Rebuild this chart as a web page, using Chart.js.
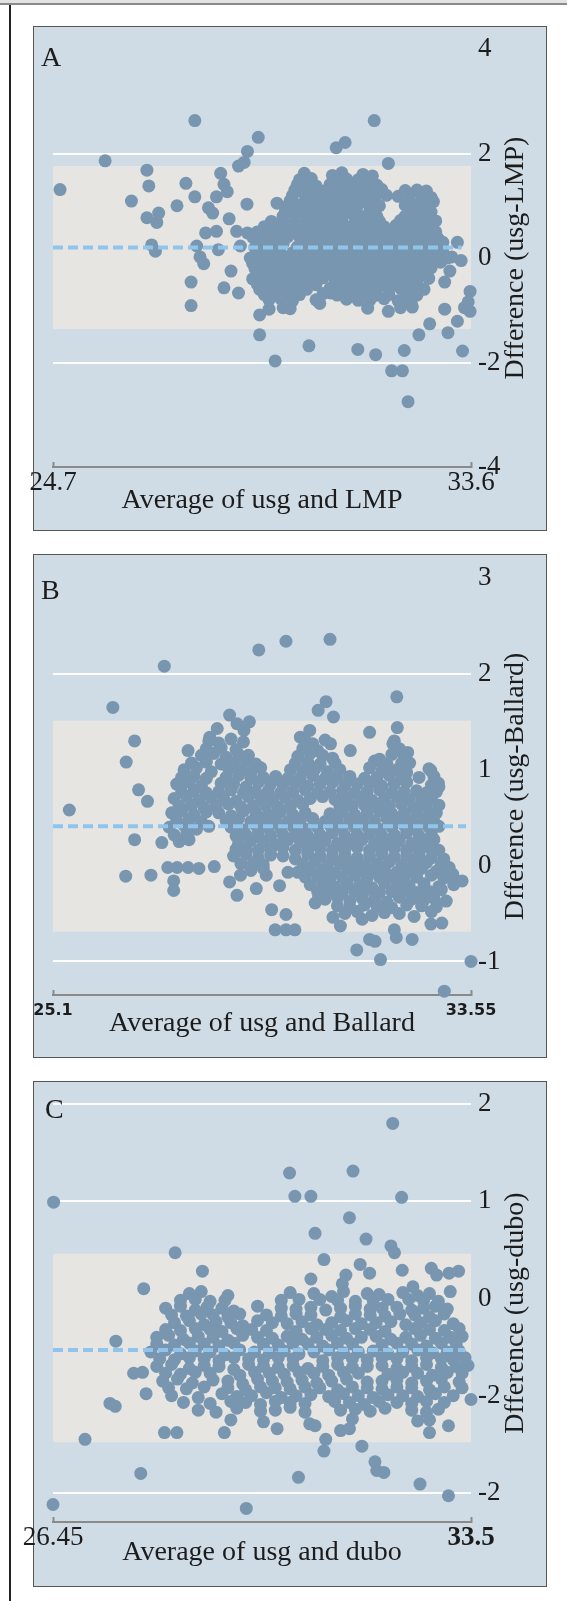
<!DOCTYPE html>
<html>
<head>
<meta charset="utf-8">
<script src="https://cdn.jsdelivr.net/npm/chart.js@4.4.1/dist/chart.umd.min.js"></script>
<style>
  html, body { margin: 0; padding: 0; background: #fff; }
  body { width: 567px; height: 1601px; position: relative; overflow: hidden; }
  .topbar { position: absolute; left: 0; top: 0; width: 567px; height: 3px; background: #e2e2e2; border-bottom: 2px solid #8a8a8a; }
  .frame { position: absolute; left: 9px; top: 5px; width: 2px; height: 1596px; background: #222; }
  .panel { position: absolute; left: 33px; width: 512px; border: 1px solid #555; background: #cfdbe5; }
  .panel canvas { position: absolute; left: -14px; top: 0; }
</style>
</head>
<body>
<div class="topbar"></div>
<div class="frame"></div>
<div class="panel" style="top:26px;height:503px"><canvas id="chartA" width="526" height="503"></canvas></div>
<div class="panel" style="top:554px;height:502px"><canvas id="chartB" width="526" height="502"></canvas></div>
<div class="panel" style="top:1081px;height:504px"><canvas id="chartC" width="526" height="504"></canvas></div>

<script>
// ---- Panel A: usg vs LMP ----
const xTicksA = [24.7, 33.6];
const xLabelsA = ['24.7', '33.6'];
const yTicksA = [4, 2, 0, -2, -4];
const yLabelsA = ['4', '2', '0', '-2', '-4'];
const yRangeA = [-4, 4];
const whiteLinesA = [2, -2];
const meanA = 0.2;
const meanEndA = 33.4;
const limitsA = [1.76, -1.36];
const pointsA = [
  [24.85,1.31],[25.81,1.86],[26.37,1.09],[26.70,1.68],[26.74,1.38],[26.70,0.77],[26.95,0.86],[26.91,0.68],
  [27.34,1.0],[26.80,0.25],[26.88,0.13],[27.53,1.43],[27.72,2.63],[27.72,1.17],[27.64,-0.46],[27.64,-0.91],
  [27.76,0.23],[27.83,0.02],[27.91,-0.11],[28.01,0.96],[28.10,0.86],[28.18,1.17],[28.27,1.62],[28.34,1.41],
  [28.41,1.27],[28.45,0.75],[27.95,0.48],[28.18,0.51],[28.22,0.16],[28.34,-0.57],[28.49,-0.25],[28.61,0.51],
  [28.65,-0.67],[28.65,1.76],[28.77,1.83],[28.84,2.04],[28.83,1.03],[28.84,0.48],[28.69,0.23],[29.07,2.31],
  [29.10,-1.09],[29.10,-1.47],[29.26,0.58],[29.30,-0.98],[29.43,-1.97],[29.47,1.05],[29.49,0.51],[30.15,-1.68],
  [30.38,-0.87],[30.61,-0.67],[30.73,2.11],[30.92,2.21],[31.19,-1.75],[31.54,2.63],[31.57,-1.85],[31.84,1.81],
  [31.84,-1.02],[31.91,-2.16],[32.14,-2.16],[32.18,-1.77],[32.26,-2.75],[32.10,-0.95],[32.33,-0.88],[32.49,-1.47],
  [32.72,-1.26],[33.04,-0.98],[33.11,-1.43],[33.31,-1.21],[33.42,-1.78],[33.58,-0.64],[33.58,-1.02],[33.54,-0.84],
  [33.46,-0.95],[33.31,0.30],[33.19,0.02],[33.39,-0.05],[33.15,-0.25],[33.04,-0.46],
  [30.05,1.62],[30.65,1.58],[30.85,1.63],[31.3,1.6],[31.5,1.57],
  [29.95,1.5],[30.2,1.52],[30.75,1.49],[30.95,1.51],[31.2,1.5],[31.45,1.48],
  [29.9,1.4],[30.1,1.43],[30.3,1.38],[30.6,1.41],[30.85,1.4],[31.05,1.37],[31.35,1.42],[31.6,1.39],
  [29.85,1.3],[30.2,1.31],[30.45,1.28],[30.7,1.3],[30.95,1.32],[31.2,1.29],[31.45,1.3],[31.7,1.31],[32.2,1.29],[32.45,1.3],[32.65,1.28],
  [29.8,1.2],[30.05,1.23],[30.3,1.18],[30.55,1.21],[30.8,1.2],[31.05,1.17],[31.3,1.22],[31.55,1.19],[31.8,1.2],[32.05,1.18],[32.3,1.22],[32.55,1.2],[32.75,1.16],
  [29.75,1.1],[30.1,1.11],[30.35,1.08],[30.6,1.1],[30.85,1.12],[31.1,1.09],[31.35,1.1],[31.55,1.11],[32.3,1.09],[32.55,1.1],[32.8,1.08],
  [29.7,1.0],[29.95,1.02],[30.2,0.98],[30.45,1.01],[30.7,1.0],[30.95,0.97],[31.2,1.02],[31.45,0.99],[31.65,1.0],[32.2,1.01],[32.45,0.98],[32.7,1.0],
  [29.65,0.9],[29.9,0.91],[30.15,0.88],[30.4,0.9],[30.65,0.92],[30.9,0.89],[31.15,0.9],[31.45,0.91],[32.3,0.89],[32.55,0.9],[32.75,0.88],
  [29.6,0.8],[29.85,0.82],[30.1,0.78],[30.35,0.81],[30.6,0.8],[30.85,0.77],[31.1,0.82],[31.35,0.8],[31.6,0.79],[32.2,0.8],[32.45,0.83],[32.7,0.79],
  [29.35,0.7],[29.6,0.71],[29.85,0.68],[30.1,0.7],[30.35,0.72],[30.6,0.69],[30.85,0.7],[31.15,0.71],[31.4,0.68],[31.65,0.7],[32.1,0.72],[32.35,0.69],[32.6,0.7],[32.85,0.71],
  [29.2,0.6],[29.5,0.62],[29.75,0.58],[30.0,0.61],[30.25,0.6],[30.5,0.57],[30.75,0.62],[31.0,0.6],[31.25,0.58],[31.5,0.61],[31.75,0.6],[32.0,0.62],[32.25,0.59],[32.5,0.6],[32.75,0.58],
  [29.05,0.5],[29.35,0.51],[29.6,0.48],[29.85,0.5],[30.1,0.52],[30.35,0.49],[30.6,0.5],[30.85,0.51],[31.1,0.48],[31.35,0.5],[31.6,0.52],[31.85,0.49],[32.1,0.5],[32.35,0.51],[32.6,0.48],[32.85,0.5],
  [28.95,0.4],[29.2,0.42],[29.45,0.38],[29.7,0.41],[29.95,0.4],[30.2,0.37],[30.45,0.42],[30.7,0.4],[30.95,0.39],[31.2,0.41],[31.45,0.38],[31.7,0.4],[31.95,0.42],[32.2,0.39],[32.45,0.4],[32.7,0.41],[32.9,0.37],
  [29.1,0.3],[29.35,0.31],[29.6,0.28],[30.0,0.3],[30.3,0.32],[30.55,0.29],[30.8,0.3],[31.05,0.31],[31.3,0.28],[31.55,0.3],[31.8,0.32],[32.05,0.29],[32.3,0.3],[32.55,0.31],[32.8,0.28],[33.0,0.3],
  [29.0,0.2],[29.25,0.22],[29.5,0.18],[29.9,0.21],[30.15,0.2],[30.4,0.17],[30.65,0.22],[30.9,0.2],[31.15,0.19],[31.4,0.21],[31.65,0.18],[31.9,0.2],[32.15,0.22],[32.4,0.19],[32.65,0.2],[32.9,0.21],
  [29.05,0.1],[29.3,0.11],[29.55,0.08],[29.8,0.1],[30.05,0.12],[30.3,0.09],[30.55,0.1],[30.8,0.11],[31.05,0.08],[31.3,0.1],[31.55,0.12],[31.8,0.09],[32.05,0.1],[32.3,0.11],[32.55,0.08],[32.8,0.1],[33.0,0.12],
  [28.9,0.0],[29.15,0.02],[29.4,-0.02],[29.65,0.01],[29.9,0.0],[30.15,-0.03],[30.4,0.02],[30.65,0.0],[30.9,-0.01],[31.15,0.01],[31.4,-0.02],[31.65,0.0],[31.9,0.02],[32.15,-0.01],[32.4,0.0],[32.65,0.01],[32.9,-0.03],[33.1,0.0],
  [28.95,-0.1],[29.2,-0.09],[29.45,-0.12],[29.7,-0.1],[29.95,-0.08],[30.2,-0.11],[30.45,-0.1],[30.7,-0.09],[30.95,-0.12],[31.2,-0.1],[31.45,-0.08],[31.7,-0.11],[31.95,-0.1],[32.2,-0.09],[32.45,-0.12],[32.7,-0.1],[32.95,-0.08],
  [29.0,-0.2],[29.25,-0.18],[29.5,-0.22],[29.75,-0.19],[30.0,-0.2],[30.25,-0.23],[30.5,-0.18],[30.75,-0.2],[31.0,-0.21],[31.25,-0.19],[31.5,-0.22],[31.75,-0.2],[32.0,-0.18],[32.25,-0.21],[32.5,-0.2],[32.75,-0.19],
  [29.1,-0.3],[29.35,-0.29],[29.6,-0.32],[29.85,-0.3],[30.1,-0.28],[30.35,-0.31],[30.6,-0.3],[30.85,-0.29],[31.1,-0.32],[31.35,-0.3],[31.6,-0.28],[31.85,-0.31],[32.1,-0.3],[32.35,-0.29],[32.6,-0.32],
  [28.95,-0.4],[29.2,-0.38],[29.45,-0.42],[29.7,-0.39],[29.95,-0.4],[30.2,-0.43],[30.45,-0.38],[30.7,-0.4],[30.95,-0.41],[31.2,-0.39],[31.45,-0.42],[31.7,-0.4],[31.95,-0.38],[32.2,-0.41],[32.45,-0.4],[32.7,-0.39],
  [29.05,-0.5],[29.3,-0.49],[29.55,-0.52],[29.8,-0.5],[30.05,-0.48],[30.3,-0.51],[30.7,-0.5],[30.95,-0.49],[31.2,-0.52],[31.45,-0.5],[31.7,-0.48],[31.95,-0.51],[32.2,-0.5],[32.45,-0.49],
  [29.1,-0.6],[29.35,-0.58],[29.6,-0.62],[29.85,-0.59],[30.1,-0.6],[30.6,-0.58],[30.85,-0.61],[31.1,-0.6],[31.35,-0.62],[31.6,-0.59],[31.85,-0.6],[32.1,-0.58],[32.35,-0.61],[32.6,-0.6],
  [29.2,-0.7],[29.45,-0.69],[29.7,-0.72],[29.95,-0.7],[30.45,-0.68],[30.75,-0.71],[31.0,-0.7],[31.3,-0.69],[31.55,-0.72],[31.85,-0.7],[32.2,-0.68],[32.45,-0.71],
  [29.3,-0.8],[29.55,-0.78],[29.8,-0.82],[30.3,-0.8],[30.95,-0.79],[31.2,-0.81],[31.45,-0.8],[31.75,-0.78],[32.05,-0.82],[32.3,-0.8],
  [29.6,-0.95],[29.75,-0.97],[31.4,-0.96],[32.35,-0.94]
];

// ---- Panel B: usg vs Ballard ----
const xTicksB = [25.1, 33.55];
const xLabelsB = ['25.1', '33.55'];
const yTicksB = [3, 2, 1, 0, -1];
const yLabelsB = ['3', '2', '1', '0', '-1'];
const yRangeB = [-1.35, 3];
const whiteLinesB = [2, -1];
const meanB = 0.41;
const meanEndB = 33.45;
const limitsB = [1.51, -0.69];
const pointsB = [
  [25.43,0.58],[26.31,1.65],[27.35,2.08],[26.75,1.30],[26.58,1.08],[26.83,0.79],[27.01,0.67],[26.75,0.27],
  [27.30,0.24],[26.57,-0.11],[27.08,-0.10],[27.54,-0.16],[27.54,-0.26],[27.42,-0.02],[27.61,-0.02],[27.83,-0.02],
  [28.05,-0.03],[28.36,-0.01],[29.26,2.25],[29.81,2.34],[30.70,2.36],[32.05,1.76],[32.06,1.44],[31.97,1.27],
  [31.50,1.39],[31.11,1.20],[31.70,1.11],[30.62,1.71],[30.46,1.62],[30.77,1.55],[30.71,1.27],[30.10,1.34],
  [30.29,1.41],[28.67,1.57],[28.82,1.48],[29.07,1.50],[28.96,1.41],[28.42,1.43],[28.27,1.34],[28.23,1.18],
  [27.83,1.20],[27.76,0.88],[32.27,1.18],[32.31,1.07],[32.74,0.99],[32.89,0.86],[33.0,0.07],[33.11,-0.02],
  [33.18,-0.09],[33.37,-0.16],[33.55,-1.0],[33.01,-1.31],[31.24,-0.88],[31.50,-0.77],[31.61,-0.79],[31.72,-0.98],
  [31.35,-0.56],[32.0,-0.67],[32.04,-0.75],[32.36,-0.77],[32.74,-0.61],[32.96,-0.60],[30.91,-0.63],[30.76,-0.54],
  [30.40,-0.39],[30.47,-0.33],[29.59,-0.67],[29.81,-0.67],[29.99,-0.67],[29.52,-0.46],[29.81,-0.51],[28.82,-0.31],
  [28.67,-0.17],[28.89,-0.10],[29.21,-0.24],[29.41,-0.10],[29.68,-0.21],[29.85,-0.07],
  [28.25,1.3],[28.45,1.28],[28.7,1.32],[28.95,1.29],[30.2,1.3],[30.35,1.27],[30.6,1.31],[32.0,1.3],
  [28.2,1.22],[28.5,1.23],[28.8,1.21],[30.15,1.22],[30.45,1.2],[32.1,1.22],
  [28.1,1.15],[28.35,1.17],[28.6,1.13],[28.85,1.16],[29.05,1.15],[30.05,1.14],[30.3,1.17],[30.55,1.15],[30.75,1.12],[31.95,1.16],[32.2,1.14],
  [27.9,1.07],[28.2,1.08],[28.5,1.06],[28.75,1.07],[29.0,1.09],[29.2,1.06],[30.0,1.07],[30.25,1.08],[30.5,1.06],[30.8,1.07],[31.6,1.09],[31.85,1.06],[32.15,1.07],
  [27.75,1.0],[28.0,1.02],[28.3,0.98],[28.65,1.01],[28.9,1.0],[29.1,0.97],[29.3,1.02],[29.9,1.0],[30.15,0.99],[30.4,1.01],[30.65,0.98],[30.9,1.0],[31.5,1.02],[31.75,0.99],[32.05,1.0],[32.25,0.97],[32.7,1.01],
  [27.7,0.92],[27.95,0.93],[28.2,0.91],[28.6,0.92],[28.85,0.94],[29.1,0.91],[29.35,0.92],[29.6,0.93],[29.85,0.91],[30.1,0.92],[30.35,0.94],[30.6,0.91],[30.85,0.92],[31.1,0.93],[31.4,0.91],[31.65,0.92],[31.9,0.94],[32.15,0.91],[32.5,0.92],[32.8,0.93],
  [27.6,0.85],[27.85,0.87],[28.1,0.83],[28.5,0.86],[28.75,0.85],[29.0,0.82],[29.25,0.87],[29.5,0.85],[29.75,0.84],[30.0,0.86],[30.25,0.83],[30.5,0.85],[30.75,0.87],[31.0,0.84],[31.25,0.85],[31.5,0.86],[31.75,0.83],[32.0,0.85],[32.25,0.87],[32.75,0.84],[32.9,0.82],
  [27.7,0.77],[27.95,0.78],[28.2,0.76],[28.45,0.77],[28.7,0.79],[28.95,0.76],[29.2,0.77],[29.45,0.78],[29.7,0.76],[29.95,0.77],[30.2,0.79],[30.45,0.76],[30.7,0.77],[30.95,0.78],[31.2,0.76],[31.45,0.77],[31.7,0.79],[31.95,0.76],[32.2,0.77],[32.45,0.78],[32.65,0.76],[32.85,0.77],
  [27.55,0.7],[27.8,0.72],[28.05,0.68],[28.3,0.71],[28.55,0.7],[28.8,0.67],[29.05,0.72],[29.3,0.7],[29.55,0.69],[29.8,0.71],[30.05,0.68],[30.3,0.7],[30.55,0.72],[30.8,0.69],[31.05,0.7],[31.3,0.71],[31.55,0.68],[31.8,0.7],[32.05,0.72],[32.3,0.69],[32.55,0.7],[32.75,0.71],
  [27.65,0.62],[27.9,0.63],[28.15,0.61],[28.4,0.62],[28.65,0.64],[28.9,0.61],[29.15,0.62],[29.4,0.63],[29.65,0.61],[29.9,0.62],[30.15,0.64],[30.9,0.61],[31.15,0.62],[31.4,0.63],[31.65,0.61],[31.9,0.62],[32.15,0.64],[32.4,0.61],[32.65,0.62],[32.9,0.63],
  [27.5,0.55],[27.7,0.57],[27.95,0.53],[28.2,0.56],[28.45,0.55],[28.7,0.52],[28.95,0.57],[29.2,0.55],[29.45,0.54],[29.7,0.56],[29.95,0.53],[30.2,0.55],[30.7,0.54],[30.95,0.56],[31.2,0.53],[31.45,0.55],[31.7,0.57],[31.95,0.54],[32.2,0.55],[32.45,0.56],[32.7,0.53],[32.85,0.55],
  [27.6,0.47],[27.85,0.48],[28.1,0.46],[28.6,0.47],[28.85,0.49],[29.1,0.46],[29.35,0.47],[29.6,0.48],[29.85,0.46],[30.1,0.47],[30.35,0.49],[30.6,0.46],[30.85,0.47],[31.1,0.48],[31.35,0.46],[31.6,0.47],[31.85,0.49],[32.1,0.46],[32.35,0.47],[32.6,0.48],[32.8,0.46],
  [27.45,0.4],[27.75,0.42],[28.0,0.38],[28.25,0.41],[28.7,0.4],[28.95,0.37],[29.2,0.42],[29.45,0.4],[29.7,0.39],[29.95,0.41],[30.2,0.38],[30.45,0.4],[30.7,0.42],[30.95,0.39],[31.2,0.4],[31.45,0.41],[31.7,0.38],[31.95,0.4],[32.2,0.42],[32.45,0.39],[32.7,0.4],[32.9,0.41],
  [27.55,0.32],[27.8,0.33],[28.8,0.31],[29.0,0.32],[29.25,0.34],[29.5,0.31],[29.75,0.32],[30.0,0.33],[30.25,0.31],[30.5,0.32],[30.75,0.34],[31.0,0.31],[31.25,0.32],[31.5,0.33],[31.75,0.31],[32.0,0.32],[32.25,0.34],[32.5,0.31],[32.75,0.32],
  [27.65,0.25],[27.85,0.27],[28.85,0.23],[29.1,0.26],[29.35,0.25],[29.6,0.22],[29.85,0.27],[30.1,0.25],[30.35,0.24],[30.6,0.26],[30.85,0.23],[31.1,0.25],[31.35,0.27],[31.6,0.24],[31.85,0.25],[32.1,0.26],[32.35,0.23],[32.6,0.25],[32.8,0.27],
  [28.8,0.17],[29.0,0.18],[29.25,0.16],[29.5,0.17],[29.75,0.19],[30.0,0.16],[30.25,0.17],[30.5,0.18],[30.75,0.16],[31.0,0.17],[31.25,0.19],[31.5,0.16],[31.75,0.17],[32.0,0.18],[32.25,0.16],[32.5,0.17],[32.7,0.19],[32.9,0.16],
  [28.75,0.1],[29.0,0.12],[29.25,0.08],[29.5,0.11],[29.75,0.1],[30.0,0.07],[30.25,0.12],[30.5,0.1],[30.75,0.09],[31.0,0.11],[31.25,0.08],[31.5,0.1],[31.75,0.12],[32.0,0.09],[32.25,0.1],[32.5,0.11],[32.75,0.08],
  [28.9,0.02],[29.15,0.03],[29.35,0.01],[30.15,0.02],[30.4,0.04],[30.65,0.01],[30.9,0.02],[31.15,0.03],[31.4,0.01],[31.65,0.02],[31.9,0.04],[32.15,0.01],[32.4,0.02],[32.65,0.03],[32.95,0.01],
  [29.1,-0.05],[29.35,-0.03],[30.05,-0.07],[30.3,-0.04],[30.55,-0.05],[30.8,-0.08],[31.05,-0.03],[31.3,-0.05],[31.55,-0.06],[31.8,-0.04],[32.05,-0.07],[32.3,-0.05],[32.55,-0.03],[32.85,-0.06],[33.1,-0.05],
  [30.2,-0.12],[30.45,-0.11],[30.7,-0.13],[30.95,-0.12],[31.2,-0.1],[31.45,-0.13],[31.7,-0.12],[31.95,-0.11],[32.2,-0.13],[32.45,-0.12],[32.75,-0.1],[33.0,-0.13],
  [30.3,-0.2],[30.55,-0.18],[30.8,-0.22],[31.05,-0.19],[31.3,-0.2],[31.55,-0.23],[31.8,-0.18],[32.05,-0.2],[32.3,-0.21],[32.6,-0.19],[32.9,-0.22],[33.2,-0.2],
  [30.45,-0.27],[30.7,-0.26],[30.95,-0.28],[31.2,-0.27],[31.45,-0.25],[31.7,-0.28],[31.95,-0.27],[32.2,-0.26],[32.45,-0.28],[32.7,-0.27],[32.95,-0.25],
  [30.6,-0.35],[30.85,-0.33],[31.1,-0.37],[31.35,-0.34],[31.6,-0.35],[31.85,-0.38],[32.1,-0.33],[32.35,-0.35],[32.6,-0.36],[32.8,-0.34],[33.05,-0.37],
  [30.85,-0.42],[31.1,-0.43],[31.4,-0.41],[31.65,-0.42],[31.95,-0.44],[32.25,-0.41],[32.55,-0.42],[32.85,-0.43],
  [31.0,-0.5],[31.25,-0.48],[31.55,-0.52],[31.8,-0.49],[32.1,-0.5],[32.4,-0.53],[32.75,-0.48]
];

// ---- Panel C: usg vs dubo ----
const xTicksC = [26.45, 33.5];
const xLabelsC = ['26.45', '33.5'];
const yTicksC = [2, 1, 0, -1, -2];
const yLabelsC = ['2', '1', '0', '-2', '-2'];
const yRangeC = [-2.3, 2];
const whiteLinesC = [2, 1, -2];
const meanC = -0.53;
const meanEndC = 33.4;
const limitsC = [0.46, -1.48];
const pointsC = [
  [26.46,0.99],[26.45,-2.12],[26.99,-1.45],[27.93,-1.80],[27.98,0.10],[27.51,-0.44],[27.41,-1.08],[27.50,-1.11],
  [27.81,-0.77],[27.96,-0.76],[28.02,-0.98],[28.33,-1.38],[28.54,-1.38],[28.51,0.47],[28.97,0.28],[29.34,-1.38],
  [29.71,-2.16],[30.23,-1.34],[30.44,1.29],[30.53,1.05],[30.80,1.05],[30.87,0.67],[30.59,-1.84],[30.78,-1.29],
  [30.87,-1.31],[31.05,-1.45],[31.02,-1.57],[31.30,-1.36],[31.45,-1.34],[31.51,1.31],[31.45,0.83],[31.73,0.61],
  [31.66,-1.52],[31.88,-1.68],[31.91,-1.77],[32.03,-1.79],[32.15,0.54],[32.21,0.47],[32.18,1.80],[32.33,1.04],
  [32.64,-1.91],[33.12,-2.03],[32.80,-1.38],[33.12,-1.31],[33.29,0.28],[33.13,0.26],[32.83,0.31],[32.92,0.24],
  [33.5,-1.04],[31.02,0.40],[30.80,0.20],[31.39,0.24],[31.33,0.15],[31.63,0.35],[31.79,0.26],[32.34,0.29],[32.52,0.12],
  [28.75,0.05],[28.95,0.07],[29.4,0.03],[30.45,0.06],[30.85,0.05],[31.15,0.02],[31.35,0.07],[31.75,0.05],[31.95,0.04],[32.35,0.06],[32.6,0.03],[32.8,0.05],[33.15,0.07],
  [28.6,-0.02],[28.85,-0.01],[29.1,-0.03],[29.35,-0.02],[30.3,-0.02],[30.6,-0.01],[30.95,-0.01],[31.25,-0.02],[31.55,-0.03],[31.85,-0.02],[32.1,-0.01],[32.45,-0.01],[32.7,-0.02],[32.95,-0.03],
  [28.35,-0.1],[28.6,-0.08],[28.85,-0.12],[29.05,-0.09],[29.3,-0.1],[29.5,-0.13],[29.9,-0.08],[30.3,-0.1],[30.55,-0.11],[30.8,-0.09],[31.05,-0.12],[31.3,-0.1],[31.55,-0.08],[31.8,-0.11],[32.0,-0.1],[32.25,-0.09],[32.5,-0.12],[32.7,-0.1],[32.9,-0.08],[33.1,-0.11],
  [28.45,-0.17],[28.7,-0.18],[28.95,-0.16],[29.15,-0.17],[29.4,-0.19],[29.6,-0.16],[30.05,-0.17],[30.3,-0.18],[30.55,-0.16],[30.8,-0.17],[31.3,-0.19],[31.55,-0.16],[31.8,-0.17],[32.05,-0.18],[32.3,-0.16],[32.55,-0.17],[32.8,-0.19],[33.05,-0.16],
  [28.5,-0.25],[28.75,-0.23],[29.0,-0.27],[29.2,-0.24],[29.45,-0.25],[29.65,-0.28],[29.9,-0.23],[30.15,-0.25],[30.4,-0.26],[30.65,-0.24],[30.9,-0.27],[31.15,-0.25],[31.4,-0.23],[31.65,-0.26],[31.9,-0.25],[32.15,-0.24],[32.4,-0.27],[32.65,-0.25],[32.9,-0.23],[33.2,-0.26],
  [28.35,-0.32],[28.6,-0.33],[28.85,-0.31],[29.1,-0.32],[29.3,-0.34],[29.55,-0.31],[29.8,-0.32],[30.05,-0.33],[30.55,-0.34],[30.8,-0.31],[31.05,-0.32],[31.3,-0.33],[31.55,-0.31],[31.8,-0.32],[32.05,-0.34],[32.55,-0.31],[32.8,-0.32],[33.05,-0.33],[33.3,-0.31],
  [28.2,-0.4],[28.4,-0.38],[28.65,-0.42],[28.9,-0.39],[29.15,-0.4],[29.4,-0.43],[29.65,-0.38],[29.9,-0.4],[30.15,-0.41],[30.4,-0.39],[30.65,-0.42],[30.9,-0.4],[31.15,-0.38],[31.4,-0.41],[31.65,-0.4],[31.9,-0.39],[32.15,-0.42],[32.4,-0.4],[32.65,-0.38],[32.9,-0.41],[33.15,-0.4],[33.35,-0.39],
  [28.2,-0.47],[28.5,-0.48],[28.75,-0.46],[29.0,-0.47],[29.25,-0.49],[29.5,-0.46],[30.0,-0.47],[30.25,-0.48],[30.5,-0.46],[30.75,-0.47],[31.0,-0.49],[31.25,-0.46],[31.5,-0.47],[32.0,-0.48],[32.25,-0.46],[32.5,-0.47],[32.75,-0.49],[33.0,-0.46],[33.25,-0.47],
  [28.1,-0.55],[28.35,-0.53],[28.6,-0.57],[28.85,-0.54],[29.1,-0.55],[29.35,-0.58],[29.6,-0.53],[29.85,-0.55],[30.1,-0.56],[30.35,-0.54],[30.6,-0.57],[30.85,-0.55],[31.1,-0.53],[31.35,-0.56],[31.6,-0.55],[31.85,-0.54],[32.1,-0.57],[32.35,-0.55],[32.6,-0.53],[32.85,-0.56],[33.1,-0.55],[33.3,-0.54],
  [28.25,-0.62],[28.5,-0.63],[28.75,-0.61],[29.0,-0.62],[29.25,-0.64],[29.5,-0.61],[29.75,-0.62],[30.0,-0.63],[30.25,-0.61],[30.5,-0.62],[31.0,-0.64],[31.25,-0.61],[31.5,-0.62],[31.75,-0.63],[32.0,-0.61],[32.25,-0.62],[32.5,-0.64],[32.75,-0.61],[33.0,-0.62],[33.2,-0.63],[33.4,-0.61],
  [28.2,-0.7],[28.45,-0.68],[28.75,-0.72],[29.0,-0.69],[29.25,-0.7],[29.5,-0.73],[29.75,-0.68],[30.0,-0.7],[30.25,-0.71],[30.5,-0.69],[30.75,-0.72],[31.0,-0.7],[31.25,-0.68],[31.5,-0.71],[31.75,-0.7],[32.0,-0.69],[32.25,-0.72],[32.5,-0.7],[32.75,-0.68],[33.0,-0.71],[33.25,-0.7],[33.45,-0.69],
  [28.35,-0.77],[28.6,-0.78],[28.85,-0.76],[29.1,-0.77],[29.6,-0.79],[29.85,-0.76],[30.1,-0.77],[30.35,-0.78],[30.6,-0.76],[30.85,-0.77],[31.1,-0.79],[31.35,-0.76],[31.6,-0.77],[32.1,-0.78],[32.35,-0.76],[32.6,-0.77],[32.85,-0.79],[33.1,-0.76],[33.35,-0.77],
  [28.3,-0.85],[28.55,-0.83],[28.8,-0.87],[29.15,-0.84],[29.4,-0.85],[29.65,-0.88],[29.9,-0.83],[30.15,-0.85],[30.4,-0.86],[30.65,-0.84],[30.9,-0.87],[31.15,-0.85],[31.4,-0.83],[31.75,-0.86],[32.0,-0.85],[32.25,-0.84],[32.5,-0.87],[32.75,-0.85],[33.0,-0.83],[33.3,-0.86],
  [28.4,-0.92],[28.7,-0.93],[29.0,-0.91],[29.4,-0.92],[29.7,-0.94],[29.95,-0.91],[30.2,-0.92],[30.45,-0.93],[30.7,-0.91],[30.95,-0.92],[31.25,-0.94],[31.5,-0.91],[31.75,-0.92],[32.0,-0.93],[32.25,-0.91],[32.5,-0.92],[32.8,-0.94],[33.05,-0.91],[33.35,-0.92],
  [28.45,-1.0],[28.9,-1.02],[29.3,-0.98],[29.55,-1.01],[29.8,-1.0],[30.05,-0.97],[30.3,-1.02],[30.55,-1.0],[30.8,-0.99],[31.1,-1.01],[31.35,-0.98],[31.6,-1.0],[31.85,-1.02],[32.1,-0.99],[32.35,-1.0],[32.6,-1.01],[32.9,-0.98],[33.2,-1.0],
  [28.65,-1.07],[29.1,-1.08],[29.45,-1.06],[29.7,-1.07],[29.95,-1.09],[30.2,-1.06],[30.45,-1.07],[30.7,-1.08],[31.2,-1.06],[31.45,-1.07],[31.7,-1.09],[31.95,-1.06],[32.25,-1.07],[32.5,-1.08],[32.75,-1.06],[33.05,-1.07],
  [28.9,-1.15],[29.2,-1.17],[29.55,-1.13],[29.95,-1.16],[30.2,-1.15],[30.45,-1.12],[30.7,-1.17],[31.3,-1.15],[31.55,-1.14],[31.8,-1.16],[32.05,-1.13],[32.5,-1.15],[32.75,-1.17],[32.95,-1.14],
  [29.45,-1.25],[30.0,-1.27],[31.5,-1.24],[32.6,-1.26],[32.8,-1.25]
];

// ---- Texts ----
const panelLetters = ['A', 'B', 'C'];
const xTitles = ['Average of usg and LMP', 'Average of usg and Ballard', 'Average of usg and dubo'];
const yTitles = ['Dfference (usg-LMP)', 'Dfference (usg-Ballard)', 'Dfference (usg-dubo)'];

const SERIF = '"Liberation Serif", "Times New Roman", serif';

// Draws the panel letter and the two axis titles (y title reads bottom-to-top)
const panelText = {
  id: 'panelText',
  afterDraw(chart, args, opts) {
    const { ctx, chartArea } = chart;
    ctx.save();
    ctx.fillStyle = '#1c1c1c';
    ctx.font = '28px ' + SERIF;
    ctx.textBaseline = 'alphabetic';
    ctx.textAlign = 'left';
    ctx.fillText(opts.letter, opts.letterX, opts.letterY);
    ctx.textAlign = 'center';
    ctx.fillText(opts.xTitle, (chartArea.left + chartArea.right) / 2, chartArea.bottom + opts.xTitleGap);
    ctx.translate(chartArea.right + 52, (chartArea.top + chartArea.bottom) / 2);
    ctx.rotate(-Math.PI / 2);
    ctx.fillText(opts.yTitle, 0, 0);
    ctx.restore();
  }
};

function makeChart(id, cfg) {
  const [xMin, xMax] = cfg.xTicks;
  return new Chart(document.getElementById(id), {
    type: 'scatter',
    data: {
      datasets: [
        {
          type: 'line',
          data: [{ x: xMin, y: cfg.mean }, { x: cfg.meanEnd, y: cfg.mean }],
          borderColor: '#8fc5ec',
          borderWidth: 4,
          borderDash: [10, 5],
          pointRadius: 0,
          fill: false,
        },
        {
          data: cfg.points.map(([x, y]) => ({ x, y })),
          backgroundColor: '#7896b0',
          borderWidth: 0,
          pointRadius: 6.5,
          pointHoverRadius: 6.5,
          clip: false,
        },
        {
          type: 'line',
          data: [{ x: xMin, y: cfg.limits[0] }, { x: xMax, y: cfg.limits[0] }],
          borderColor: 'rgba(0,0,0,0)',
          borderWidth: 0,
          pointRadius: 0,
          fill: false,
        },
        {
          type: 'line',
          data: [{ x: xMin, y: cfg.limits[1] }, { x: xMax, y: cfg.limits[1] }],
          borderColor: 'rgba(0,0,0,0)',
          borderWidth: 0,
          pointRadius: 0,
          fill: '-1',
          backgroundColor: '#e6e5e2',
        },
      ],
    },
    options: {
      responsive: false,
      animation: false,
      events: [],
      layout: { padding: { left: 33, top: cfg.padTop, right: 0, bottom: 0 } },
      plugins: {
        legend: { display: false },
        tooltip: { enabled: false },
        panelText: {
          letter: cfg.letter, letterX: cfg.letterX, letterY: cfg.letterY,
          xTitle: cfg.xTitle, yTitle: cfg.yTitle, xTitleGap: cfg.xTitleGap,
        },
      },
      scales: {
        x: {
          type: 'linear',
          min: xMin,
          max: xMax,
          afterBuildTicks: s => { s.ticks = cfg.xTicks.map(v => ({ value: v })); },
          afterFit: s => { s.height = cfg.xAxisHeight; s.paddingLeft = 0; s.paddingRight = 0; },
          grid: { drawOnChartArea: false, drawTicks: true, tickLength: -5, tickColor: '#8a8a8a', tickWidth: 2 },
          border: { display: true, color: '#8a8a8a', width: 2 },
          ticks: {
            autoSkip: false,
            maxRotation: 0,
            padding: cfg.xTickPad,
            color: '#1c1c1c',
            font: cfg.xTickFont,
            callback: (v, i) => cfg.xLabels[i],
          },
        },
        y: {
          type: 'linear',
          position: 'right',
          min: cfg.yRange[0],
          max: cfg.yRange[1],
          afterBuildTicks: s => { s.ticks = cfg.yTicks.map(v => ({ value: v })); },
          afterFit: s => { s.width = 75; s.paddingTop = 0; s.paddingBottom = 0; },
          grid: {
            drawTicks: false,
            lineWidth: 2,
            color: c => cfg.whiteLines.includes(c.tick && c.tick.value) ? 'rgba(255,255,255,0.95)' : 'rgba(0,0,0,0)',
          },
          border: { display: false },
          ticks: {
            autoSkip: false,
            padding: 7,
            color: '#1c1c1c',
            font: { family: SERIF, size: 27 },
            callback: (v, i) => cfg.yLabels[i],
          },
        },
      },
    },
    plugins: [panelText],
  });
}

makeChart('chartA', {
  xTicks: xTicksA, xLabels: xLabelsA, yTicks: yTicksA, yLabels: yLabelsA, yRange: yRangeA,
  whiteLines: whiteLinesA, mean: meanA, meanEnd: meanEndA, limits: limitsA, points: pointsA,
  padTop: 22, xAxisHeight: 63, xTickPad: 5, xTickFont: { family: SERIF, size: 27 },
  letter: panelLetters[0], letterX: 21, letterY: 39,
  xTitle: xTitles[0], yTitle: yTitles[0], xTitleGap: 41,
});

makeChart('chartB', {
  xTicks: xTicksB, xLabels: xLabelsB, yTicks: yTicksB, yLabels: yLabelsB, yRange: yRangeB,
  whiteLines: whiteLinesB, mean: meanB, meanEnd: meanEndB, limits: limitsB, points: pointsB,
  padTop: 23, xAxisHeight: 62, xTickPad: 11, xTickFont: { family: '"DejaVu Sans", sans-serif', size: 16, weight: 'bold' },
  letter: panelLetters[1], letterX: 21, letterY: 44,
  xTitle: xTitles[1], yTitle: yTitles[1], xTitleGap: 36,
});

makeChart('chartC', {
  xTicks: xTicksC, xLabels: xLabelsC, yTicks: yTicksC, yLabels: yLabelsC, yRange: yRangeC,
  whiteLines: whiteLinesC, mean: meanC, meanEnd: meanEndC, limits: limitsC, points: pointsC,
  padTop: 22, xAxisHeight: 64, xTickPad: 5,
  xTickFont: c => ({ family: SERIF, size: 27, weight: c.index === 1 ? 'bold' : 'normal' }),
  letter: panelLetters[2], letterX: 25, letterY: 36,
  xTitle: xTitles[2], yTitle: yTitles[2], xTitleGap: 38,
});
</script>
</body>
</html>
